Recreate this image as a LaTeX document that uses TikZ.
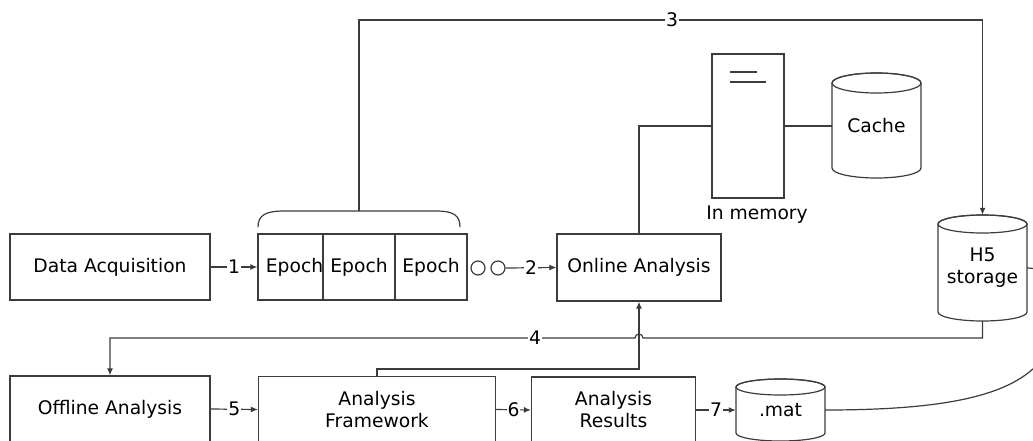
\documentclass[tikz,border=0pt]{standalone}
\usepackage{fontspec}
\setmainfont{DejaVu Sans}
\usetikzlibrary{arrows.meta}
\definecolor{lc}{RGB}{60,60,60}
\tikzset{
  txt/.style={font=\fontsize{18.7}{22}\selectfont, text=black},
  box/.style={txt, draw=lc, line width=1.2pt, fill=white, inner sep=0pt, align=center},
  ghost/.style={txt, draw=none, inner sep=0pt, align=center},
  ln/.style={draw=lc, line width=1.2pt},
  arr/.style={ln, -{Latex[length=7pt,width=6pt]}},
  lab/.style={txt, fill=white, inner sep=1pt},
  cyl/.style={draw=lc, line width=1.2pt, fill=white},
}
\begin{document}
\begin{tikzpicture}[x=1pt,y=-1pt]
\useasboundingbox (0,0) rectangle (1033,440);

% nodes
\node[box, minimum width=200, minimum height=66] (da) at (110,267) {Data Acquisition};
\node[box, minimum width=73, minimum height=66] (e1) at (294.5,267) {Epoch};
\node[box, minimum width=72, minimum height=66] (e2) at (359,267) {Epoch};
\node[box, minimum width=72, minimum height=66] (e3) at (431,267) {Epoch};
\node[draw=lc, line width=1.2pt, circle, minimum size=14, inner sep=0pt] (c1) at (478,268) {};
\node[draw=lc, line width=1.2pt, circle, minimum size=14, inner sep=0pt] (c2) at (498,268) {};
\node[box, minimum width=164, minimum height=67] (oa) at (639,267.5) {Online Analysis};
\node[box, minimum width=72, minimum height=144] (mem) at (748,126) {};
\node[txt] (memlab) at (757,215) {In memory};
\node[box, minimum width=200, minimum height=66] (off) at (110,409) {Offline Analysis};
\node[box, minimum width=237, minimum height=66] (af) at (377,409.5) {Analysis\\Framework};
\node[box, minimum width=164, minimum height=66] (ar) at (613.5,410) {Analysis\\Results};

% server detail
\draw[ln] (730,72) -- (757,72);
\draw[ln] (730,82) -- (766,82);

% Cache: 832-921, 73-178, ry 10
\draw[cyl] (832,83) -- (832,168) arc[start angle=180,end angle=0,x radius=44.5,y radius=10] -- (921,83) arc[start angle=0,end angle=-180,x radius=44.5,y radius=10] -- cycle;
\draw[ln] (876.5,83) ellipse[x radius=44.5,y radius=10];
\node[ghost, minimum width=89, minimum height=105] (cache) at (876.5,126) {Cache};
% H5: 938-1027, 215-321, ry 9
\draw[cyl] (938,224) -- (938,312) arc[start angle=180,end angle=0,x radius=44.5,y radius=9] -- (1027,224) arc[start angle=0,end angle=-180,x radius=44.5,y radius=9] -- cycle;
\draw[ln] (982.5,224) ellipse[x radius=44.5,y radius=9];
\node[ghost, minimum width=89, minimum height=106] (h5) at (982.5,268) {H5\\storage};
% .mat: 736-825, 379-441, ry 8
\draw[cyl] (736,387) -- (736,433) arc[start angle=180,end angle=0,x radius=44.5,y radius=8] -- (825,387) arc[start angle=0,end angle=-180,x radius=44.5,y radius=8] -- cycle;
\draw[ln] (780.5,387) ellipse[x radius=44.5,y radius=8];
\node[ghost, minimum width=89, minimum height=62] (mat) at (780.5,410) {.mat};

% brace over epochs
\coordinate (bt) at (359,211);
\draw[ln] (258,227) .. controls (258,215) and (266,211) .. (284,211) -- (436,211) .. controls (453,211) and (460,215) .. (460,227);

% connectors
\coordinate (t1) at (359,20);
\coordinate (t2) at (982.5,20);
\draw[arr] (bt) -- (t1) -- (t2) -- (h5.north);
\node[lab] (l3) at (672,20) {3};

\draw[arr] (da.east) -- node[lab]{1} (e1.west);
\draw[arr] (c2.east) -- node[lab]{2} (oa.west);
\draw[ln] (oa.north) |- (mem.west);
\draw[ln] (mem.east) -- (cache.west);

\coordinate (h5b) at (982.5,338);
\coordinate (hopr) at (643,338);
\coordinate (l4l) at (110,338);
\draw[arr] (h5.south) -- (h5b) -- (hopr) arc[start angle=0,end angle=-180,radius=4] -- (l4l) -- (off.north);
\node[lab] (l4) at (535,338) {4};

\coordinate (afk) at (377,369);
\draw[arr] (af.north) -- (afk) -| (oa.south);

\draw[arr] (off.east) -- node[lab]{5} (af.west);
\draw[arr] (af.east) -- node[lab]{6} (ar.west);
\draw[arr] (ar.east) -- node[lab]{7} (mat.west);

\coordinate (loop) at (1060,300);
\draw[ln] (mat.east) .. controls (1000,410) and (1060,380) .. (loop) .. controls (1060,280) and (1045,268) .. (h5.east);
\end{tikzpicture}
\end{document}
